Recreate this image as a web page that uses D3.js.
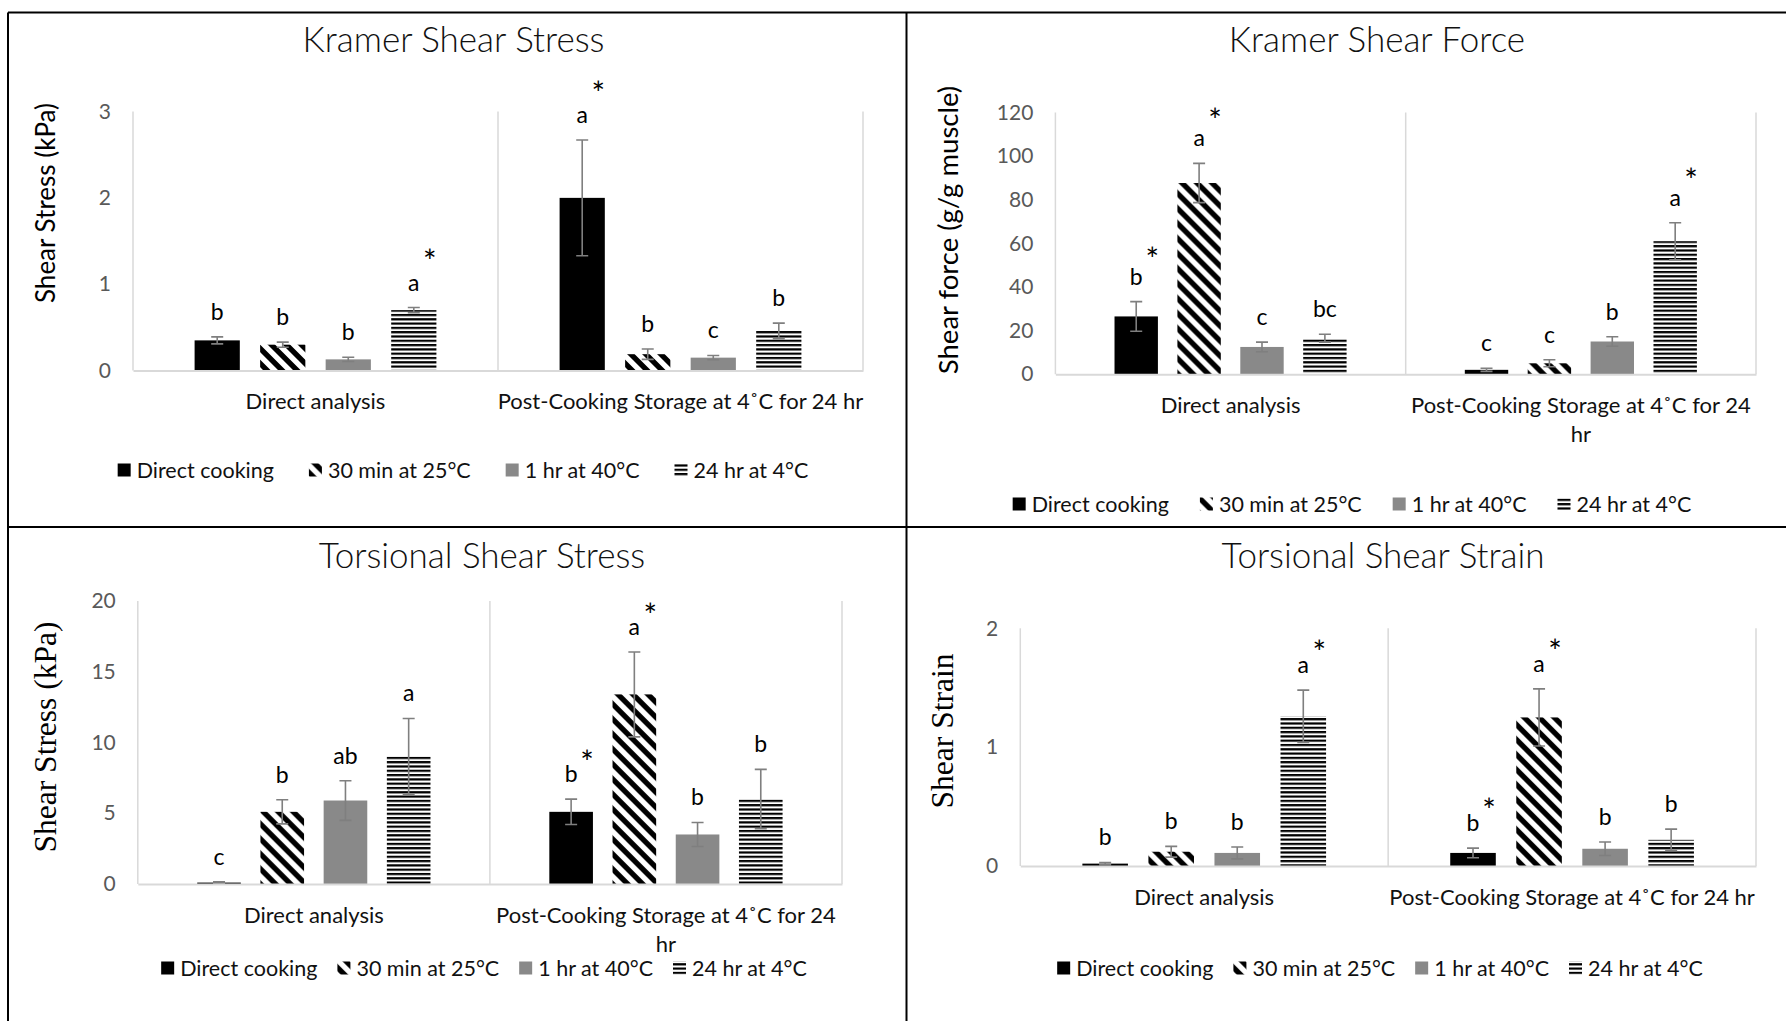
<!DOCTYPE html>
<html>
<head>
<meta charset="utf-8">
<script src="https://cdn.jsdelivr.net/npm/d3@7"></script>
<style>
  body { margin: 0; background: #fff; }
  text { font-family: Lato, "Liberation Sans", sans-serif; }
</style>
</head>
<body>
<script>
// categories and treatments shared by all four charts
var categories = ["Direct analysis", "Post-Cooking Storage at 4\u02DAC for 24 hr"];
var treatments = ["Direct cooking", "30 min at 25\u00B0C", "1 hr at 40\u00B0C", "24 hr at 4\u00B0C"];

// Kramer shear stress (kPa)
var kStressMean = [[0.35, 0.30, 0.13, 0.70], [2.0, 0.19, 0.15, 0.46]];
var kStressErr = [[0.04, 0.03, 0.025, 0.03], [0.67, 0.06, 0.025, 0.09]];
var kStressLetters = [["b", "b", "b", "a"], ["a", "b", "c", "b"]];
var kStressStars = [[0, 0, 0, 1], [1, 0, 0, 0]];

// Kramer shear force (g/g muscle)
var kForceMean = [[26.5, 87.7, 12.5, 16.5], [2, 5, 15, 61]];
var kForceErr = [[6.8, 9, 2.2, 1.8], [0.7, 1.6, 2.2, 8.5]];
var kForceLetters = [["b", "a", "c", "bc"], ["c", "c", "b", "a"]];
var kForceStars = [[1, 1, 0, 0], [0, 0, 0, 1]];

// Torsional shear stress (kPa)
var tStressMean = [[0.1, 5.1, 5.9, 9.0], [5.1, 13.4, 3.5, 6.0]];
var tStressErr = [[0.05, 0.85, 1.4, 2.7], [0.9, 3.0, 0.85, 2.1]];
var tStressLetters = [["c", "b", "ab", "a"], ["b", "a", "b", "b"]];
var tStressStars = [[0, 0, 0, 0], [1, 1, 0, 0]];

// Torsional shear strain
var tStrainMean = [[0.02, 0.12, 0.11, 1.26], [0.11, 1.25, 0.145, 0.22]];
var tStrainErr = [[0.01, 0.045, 0.05, 0.22], [0.04, 0.24, 0.057, 0.09]];
var tStrainLetters = [["b", "b", "b", "a"], ["b", "a", "b", "b"]];
var tStrainStars = [[0, 0, 0, 1], [1, 1, 0, 0]];

var W = 1786, H = 1021;
var svg = d3.select("body").append("svg").attr("width", W).attr("height", H);

// fill patterns
var defs = svg.append("defs");
var diag = defs.append("pattern").attr("id", "diag")
  .attr("patternUnits", "userSpaceOnUse").attr("width", 15).attr("height", 15);
diag.append("rect").attr("width", 15).attr("height", 15).attr("fill", "#fff");
diag.append("path").attr("d", "M0,0L7.5,0L15,7.5L15,15Z M0,7.5L0,15L7.5,15Z").attr("fill", "#000");
var horiz = defs.append("pattern").attr("id", "horiz")
  .attr("patternUnits", "userSpaceOnUse").attr("width", 8).attr("height", 4.3);
horiz.append("rect").attr("width", 8).attr("height", 4.3).attr("fill", "#fff");
horiz.append("rect").attr("width", 8).attr("height", 2.2).attr("fill", "#000");

var fills = ["#000", "url(#diag)", "#898989", "url(#horiz)"];

var panels = [
  {title: "Kramer Shear Stress", ytitle: "Shear Stress (kPa)", serif: false,
   mean: kStressMean, err: kStressErr, letters: kStressLetters, stars: kStressStars,
   l: 133, r: 863, t: 111.5, b: 370.6, max: 3, step: 1, starLift: 36,
   tx: 453.5, ty: 52, ytx: 46, yty: 203, legX: 463, legY: 470, legGap: 35},
  {title: "Kramer Shear Force", ytitle: "Shear force (g/g muscle)", serif: false,
   mean: kForceMean, err: kForceErr, letters: kForceLetters, stars: kForceStars,
   l: 1055.4, r: 1756, t: 112.6, b: 374.2, max: 120, step: 20, starLift: 32,
   tx: 1377, ty: 52, ytx: 948, yty: 230, legX: 1352, legY: 504, legGap: 31},
  {title: "Torsional Shear Stress", ytitle: "Shear Stress (kPa)", serif: true,
   mean: tStressMean, err: tStressErr, letters: tStressLetters, stars: tStressStars,
   l: 137.8, r: 842, t: 601, b: 884, max: 20, step: 5, starLift: 26,
   tx: 482, ty: 568, ytx: 45, yty: 737, legX: 484, legY: 968, legGap: 20},
  {title: "Torsional Shear Strain", ytitle: "Shear Strain", serif: true,
   mean: tStrainMean, err: tStrainErr, letters: tStrainLetters, stars: tStrainStars,
   l: 1020.3, r: 1756, t: 628.3, b: 866, max: 2, step: 1, starLift: 27,
   tx: 1383, ty: 568, ytx: 942, yty: 731, legX: 1380, legY: 968, legGap: 20}
];

// Excel-like wrap: only break when the label clearly overflows its category
function wrapLabel(sel, width) {
  sel.each(function() {
    var text = d3.select(this);
    var full = text.text();
    if (this.getComputedTextLength() <= width + 6) return;
    var words = full.split(" ");
    text.text(null);
    var line = [];
    var tspan = text.append("tspan").attr("x", 0).attr("dy", 0);
    words.forEach(function(w) {
      line.push(w);
      tspan.text(line.join(" "));
      if (tspan.node().getComputedTextLength() > width && line.length > 1) {
        line.pop();
        tspan.text(line.join(" "));
        line = [w];
        tspan = text.append("tspan").attr("x", 0).attr("dy", 29).text(w);
      }
    });
  });
}

panels.forEach(function(p) {
  var g = svg.append("g");

  var x0 = d3.scaleBand().domain(categories).range([p.l, p.r]).padding(0);
  var x1 = d3.scaleBand().domain(treatments).range([0, x0.bandwidth()])
    .paddingInner(0.31).paddingOuter(0.94);
  var y = d3.scaleLinear().domain([0, p.max]).range([p.b, p.t]);

  // title
  g.append("text").attr("x", p.tx).attr("y", p.ty).attr("text-anchor", "middle")
    .style("font-size", "35px").style("font-weight", 300).attr("fill", "#111")
    .text(p.title);

  // y axis title
  g.append("text").attr("transform", "translate(" + p.ytx + "," + p.yty + ") rotate(-90)")
    .attr("text-anchor", "middle").attr("dy", "0.35em")
    .style("font-family", p.serif ? "'Liberation Serif', serif" : "Lato, sans-serif")
    .style("font-size", p.serif ? "31.5px" : (p.ytitle.length > 20 ? "27.5px" : "26px"))
    .attr("fill", "#000")
    .text(p.ytitle);

  // vertical separators
  var edges = categories.map(function(c) { return x0(c); }).concat([p.r]);
  g.selectAll(".sep").data(edges).enter().append("line")
    .attr("x1", function(d) { return d; }).attr("x2", function(d) { return d; })
    .attr("y1", p.t).attr("y2", p.b)
    .attr("stroke", "#d9d9d9").attr("stroke-width", 1.5);

  // y axis
  var yAxis = g.append("g").attr("transform", "translate(" + p.l + ",0)")
    .call(d3.axisLeft(y).tickValues(d3.range(0, p.max + p.step / 2, p.step))
      .tickSize(0).tickPadding(22).tickFormat(d3.format("d")));
  yAxis.select(".domain").remove();
  yAxis.selectAll("text").style("font-family", "Lato, sans-serif")
    .style("font-size", "21px").attr("fill", "#595959");

  // bars
  categories.forEach(function(c, ci) {
    var cg = g.append("g").attr("transform", "translate(" + x0(c) + ",0)");
    treatments.forEach(function(tname, ti) {
      var v = p.mean[ci][ti], e = p.err[ci][ti];
      var bx = x1(tname), bw = x1.bandwidth(), cx = bx + bw / 2;
      cg.append("rect").attr("x", bx).attr("width", bw)
        .attr("y", y(v)).attr("height", y(0) - y(v))
        .attr("fill", fills[ti]);
      // error bar
      cg.append("path")
        .attr("d", "M" + cx + "," + y(v + e) + "V" + y(Math.max(0, v - e)) +
          "M" + (cx - 6) + "," + y(v + e) + "H" + (cx + 6) +
          "M" + (cx - 6) + "," + y(Math.max(0, v - e)) + "H" + (cx + 6))
        .attr("stroke", "#7f7f7f").attr("stroke-width", 1.6).attr("fill", "none");
      // significance letters
      var base = y(v + e) - 17;
      cg.append("text").attr("x", cx).attr("y", base).attr("text-anchor", "middle")
        .style("font-size", "23px").attr("fill", "#000")
        .text(p.letters[ci][ti]);
      if (p.stars[ci][ti]) {
        var lw = p.letters[ci][ti].length * 6;
        cg.append("text").attr("x", cx + 10 + lw).attr("y", base - p.starLift + 18)
          .attr("text-anchor", "middle")
          .style("font-size", "32px").attr("fill", "#000").text("*");
      }
    });
  });

  // baseline / category axis
  var xAxis = g.append("g").attr("transform", "translate(0," + p.b + ")")
    .call(d3.axisBottom(x0).tickSize(0).tickSizeOuter(0).tickPadding(0));
  xAxis.select(".domain").attr("stroke", "#d9d9d9").attr("stroke-width", 2);
  xAxis.selectAll("text").attr("y", 38.5).attr("dy", 0)
    .style("font-family", "Lato, sans-serif").style("font-size", "22px").attr("fill", "#111")
    .call(wrapLabel, x0.bandwidth());

  // legend
  var leg = g.append("g");
  var cursor = 0;
  treatments.forEach(function(tname, ti) {
    leg.append("rect").attr("x", cursor).attr("y", p.legY - 6.5)
      .attr("width", 13).attr("height", 13).attr("fill", fills[ti]);
    var t = leg.append("text").attr("x", cursor + 19).attr("y", p.legY + 8)
      .style("font-size", "21.5px").attr("fill", "#111").text(tname);
    cursor += 19 + t.node().getComputedTextLength() + p.legGap;
  });
  var legW = cursor - p.legGap;
  leg.attr("transform", "translate(" + (p.legX - legW / 2) + ",0)");
});

// frame lines around the four images
var frame = [
  [8, 12.5, W, 12.5],
  [8, 12.5, 8, H],
  [906.5, 12.5, 906.5, H],
  [8, 527, W, 527]
];
svg.selectAll(".frame").data(frame).enter().append("line")
  .attr("x1", function(d) { return d[0]; }).attr("y1", function(d) { return d[1]; })
  .attr("x2", function(d) { return d[2]; }).attr("y2", function(d) { return d[3]; })
  .attr("stroke", "#000").attr("stroke-width", 2);
</script>
</body>
</html>
